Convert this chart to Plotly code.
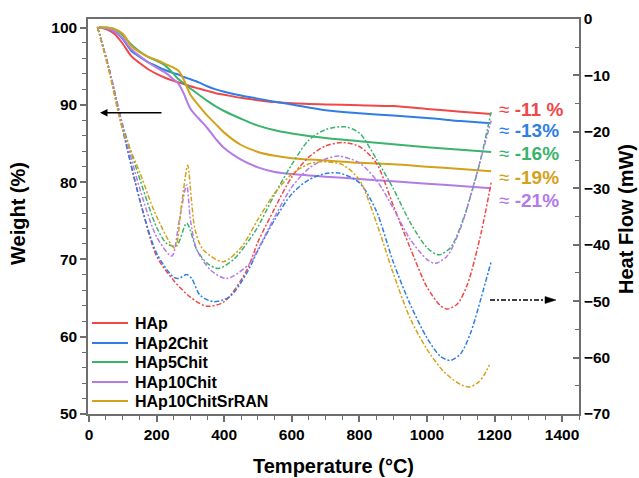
import plotly.graph_objects as go

# ---- TGA (weight loss, left axis) ----
tga_temp = [30, 50, 75, 100, 125, 150, 175, 200, 225, 250, 265, 280, 300, 325, 350,
            375, 400, 450, 500, 550, 600, 700, 800, 900, 1000, 1100, 1190]
w_hap = [100, 99.8, 99.2, 97.9, 96.3, 95.4, 94.6, 94.0, 93.5, 93.1, 92.9, 92.7, 92.4, 92.1, 91.8,
         91.5, 91.3, 90.9, 90.6, 90.35, 90.2, 90.05, 89.95, 89.83, 89.47, 89.11, 88.8]
w_hap2 = [100, 99.9, 99.5, 98.5, 97.0, 96.2, 95.5, 95.0, 94.5, 94.1, 93.9, 93.6, 93.3, 92.9, 92.4,
          92.0, 91.7, 91.2, 90.8, 90.4, 90.05, 89.3, 88.9, 88.6, 88.3, 87.9, 87.6]
w_hap5 = [100, 100, 99.8, 99.0, 97.8, 96.9, 96.2, 95.7, 95.1, 94.0, 93.3, 92.8, 92.1, 91.3, 90.5,
          89.8, 89.2, 88.2, 87.3, 86.7, 86.3, 85.7, 85.3, 84.9, 84.5, 84.2, 83.9]
w_hap10 = [100, 99.9, 99.5, 98.6, 97.2, 96.3, 95.5, 94.8, 94.2, 93.3, 92.7, 91.5, 89.5, 88.2, 87.0,
           85.6, 84.4, 82.9, 81.9, 81.3, 81.05, 80.7, 80.4, 80.1, 79.8, 79.5, 79.2]
w_sr = [100, 100, 99.8, 99.2, 97.6, 96.8, 96.2, 95.8, 95.3, 94.8, 94.4, 93.3, 91.3, 89.9, 88.6,
        87.5, 86.4, 84.8, 83.9, 83.4, 83.1, 82.8, 82.5, 82.3, 82.0, 81.7, 81.4]

# ---- DSC (heat flow, right axis) ----
t_dsc_hap = [25, 60, 100, 150, 200, 250, 300, 348, 400, 467, 500, 550, 600, 650, 700, 750,
             800, 850, 900, 950, 1000, 1040, 1060, 1090, 1120, 1160, 1190]
hf_hap = [-1.4, -9, -19.5, -32, -42, -46.3, -49.3, -50.9, -50.1, -44.5, -39.5, -33.5, -28, -24.5,
          -22.5, -21.9, -22.6, -25.5, -33, -40.5, -47.5, -50.8, -51.4, -50.5, -47, -38, -29]
t_dsc_hap2 = [25, 60, 100, 150, 200, 249, 265, 289, 304, 328, 368, 417, 467, 500, 550, 600, 650,
              700, 740, 800, 850, 900, 950, 1000, 1040, 1070, 1100, 1130, 1160, 1190]
hf_hap2 = [-1.4, -9, -19.7, -32, -41.5, -45.7, -46.0, -45.3, -46.0, -48.9, -50.1, -49.2, -45, -41,
           -35.5, -31, -28.5, -27.4, -27.3, -29, -34, -43, -50.5, -56.5, -59.8, -60.5, -59.3,
           -55.5, -49.5, -43]
t_dsc_hap5 = [25, 60, 100, 151, 200, 230, 259, 289, 319, 350, 383, 430, 476, 500, 550, 600, 650,
              700, 757, 800, 850, 900, 950, 1000, 1034, 1070, 1110, 1150, 1190]
hf_hap5 = [-1.4, -9, -18.8, -28.5, -36.9, -39.8, -40.2, -36.2, -40.9, -43.3, -44.2, -42.5, -39.0,
           -36.8, -31, -25.8, -21.5, -19.6, -19.1, -20.2, -24.8, -30, -36, -40.5, -41.8, -40.5,
           -35, -27, -16.5]
t_dsc_hap10 = [25, 60, 100, 150, 200, 245, 267, 289, 300, 319, 360, 407, 476, 500, 550, 600, 650,
               700, 740, 800, 850, 900, 950, 1000, 1025, 1060, 1100, 1140, 1190]
hf_hap10 = [-1.4, -9, -19, -30, -38.6, -42, -35.7, -29.4, -35.6, -40.9, -44.5, -46, -43.3, -40.8,
            -35, -29.8, -26.5, -24.8, -24.3, -25.5, -28.5, -33.5, -39, -42.6, -43.3, -42, -37,
            -29, -18]
t_dsc_sr = [25, 60, 100, 151, 200, 254, 273, 292, 303, 314, 338, 397, 450, 500, 550, 600, 650,
            690, 750, 800, 850, 900, 950, 1000, 1050, 1100, 1125, 1150, 1170, 1185]
hf_sr = [-1.4, -9.5, -19.7, -27.3, -35, -40.6, -33.3, -25.9, -32, -37.4, -40.9, -43, -40.5,
         -35.5, -30.8, -27.5, -25.7, -25.3, -25.8, -28.5, -36, -45, -53, -58.5, -62.5, -64.8,
         -65.2, -64.5, -63, -61.3]

names = ["HAp", "HAp2Chit", "HAp5Chit", "HAp10Chit", "HAp10ChitSrRAN"]
colors = ["#f04848", "#2f7ee6", "#3bb36c", "#b47ae6", "#d4a11a"]
weights = [w_hap, w_hap2, w_hap5, w_hap10, w_sr]
dsc_t = [t_dsc_hap, t_dsc_hap2, t_dsc_hap5, t_dsc_hap10, t_dsc_sr]
dsc_hf = [hf_hap, hf_hap2, hf_hap5, hf_hap10, hf_sr]

# total mass-loss labels, ordered top to bottom (HAp, HAp2Chit, HAp5Chit, SrRAN, HAp10Chit)
loss_values = ["-11 %", "-13%", "-16%", "-19%", "-21%"]
loss_colors = [colors[0], colors[1], colors[2], colors[4], colors[3]]
label_py = [109, 130, 153, 177, 200]
legend_py = [323, 343, 362, 382, 401]

FONT = "Liberation Sans, Arial, sans-serif"
AX = "#6e6e6e"
DASHDOT = "5px,2px,2px,2px"

fig = go.Figure()
for name, c, t, hf in zip(names, colors, dsc_t, dsc_hf):
    fig.add_trace(go.Scatter(x=t, y=hf, yaxis="y2", mode="lines", name=name + " DSC",
                             showlegend=False,
                             line=dict(color=c, width=1.5, dash=DASHDOT,
                                       shape="spline", smoothing=0.8)))
for name, c, w in zip(names, colors, weights):
    fig.add_trace(go.Scatter(x=tga_temp, y=w, name=name, mode="lines", showlegend=False,
                             line=dict(color=c, width=2, shape="spline", smoothing=0.8)))

# plot area in pixels
L, R, T, B = 88, 60, 19, 64
W, H = 639, 478
pw, ph = W - L - R, H - T - B


def px(x):
    return (x - L) / pw


def py(y):
    return (H - B - y) / ph


annotations = []
shapes = []
for val, c, yy in zip(loss_values, loss_colors, label_py):
    annotations.append(dict(xref="paper", yref="paper", x=px(497), y=py(yy),
                            text=f"≈ <b>{val}</b>", showarrow=False, xanchor="left",
                            yanchor="middle", font=dict(family=FONT, size=19, color=c)))

# legend drawn as line samples with labels
for name, c, yy in zip(names, colors, legend_py):
    shapes.append(dict(type="line", xref="paper", yref="paper", x0=px(92), x1=px(128),
                       y0=py(yy), y1=py(yy), line=dict(color=c, width=2)))
    annotations.append(dict(xref="paper", yref="paper", x=px(133), y=py(yy), text=name,
                            showarrow=False, xanchor="left", yanchor="middle",
                            font=dict(family=FONT, size=16, color="black", weight="bold")))

# axis titles
titlefont = dict(family=FONT, size=20, color="black", weight="bold")
annotations += [
    dict(xref="paper", yref="paper", x=px(333), y=py(466), text="Temperature (°C)",
         showarrow=False, xanchor="center", yanchor="middle", font=titlefont),
    dict(xref="paper", yref="paper", x=px(18), y=py(214), text="Weight (%)", textangle=-90,
         showarrow=False, xanchor="center", yanchor="middle", font=titlefont),
    dict(xref="paper", yref="paper", x=px(626), y=py(219), text="Heat Flow (mW)", textangle=-90,
         showarrow=False, xanchor="center", yanchor="middle", font=titlefont),
]

# arrow pointing to the weight axis
annotations.append(dict(xref="paper", yref="paper", x=px(100), y=py(112.7), ax=63, ay=0,
                        axref="pixel", ayref="pixel", text="", showarrow=True,
                        arrowhead=2, arrowsize=1, arrowwidth=1.5, arrowcolor="black"))
# dash-dot arrow pointing to the heat-flow axis
shapes += [
    dict(type="line", xref="paper", yref="paper", x0=px(490), x1=px(547), y0=py(300), y1=py(300),
         line=dict(color="black", width=1.5, dash=DASHDOT)),
    dict(type="path", xref="paper", yref="paper",
         path=f"M {px(545)} {py(296.5)} L {px(556)} {py(300)} L {px(545)} {py(303.5)} Z",
         fillcolor="black", line=dict(color="black", width=0.5)),
]

tickfont = dict(family=FONT, size=15.5, color="black", weight="bold")

fig.update_layout(
    width=W, height=H, margin=dict(l=L, r=R, t=T, b=B, autoexpand=False),
    paper_bgcolor="white", plot_bgcolor="white",
    font=dict(family=FONT, color="black"),
    xaxis=dict(range=[-3, 1450], tickvals=list(range(0, 1401, 200)), ticks="outside",
               ticklen=6, tickwidth=1.5, tickcolor=AX, showline=True, linecolor=AX,
               linewidth=1.5, mirror=True, showgrid=False, zeroline=False, tickfont=tickfont,
               automargin=False,
               minor=dict(dtick=50, ticks="outside", ticklen=4, tickwidth=1.2, tickcolor=AX,
                          showgrid=False)),
    yaxis=dict(range=[50, 101.1], tickvals=list(range(50, 101, 10)), ticks="outside",
               ticklen=6, tickwidth=1.5, tickcolor=AX, showline=True, linecolor=AX,
               linewidth=1.5, showgrid=False, zeroline=False, tickfont=tickfont,
               automargin=False,
               minor=dict(dtick=2, ticks="outside", ticklen=4, tickwidth=1.2, tickcolor=AX,
                          showgrid=False)),
    yaxis2=dict(range=[-70, 0], tickvals=list(range(-70, 1, 10)), overlaying="y", side="right",
                ticks="inside", ticklen=6, tickwidth=1.5, tickcolor=AX, showline=True,
                linecolor=AX, linewidth=1.5, showgrid=False, zeroline=False, tickfont=tickfont,
                automargin=False,
                minor=dict(dtick=5, ticks="inside", ticklen=4, tickwidth=1.2, tickcolor=AX,
                           showgrid=False)),
    annotations=annotations, shapes=shapes, showlegend=False,
)

fig.write_html("out.html")
